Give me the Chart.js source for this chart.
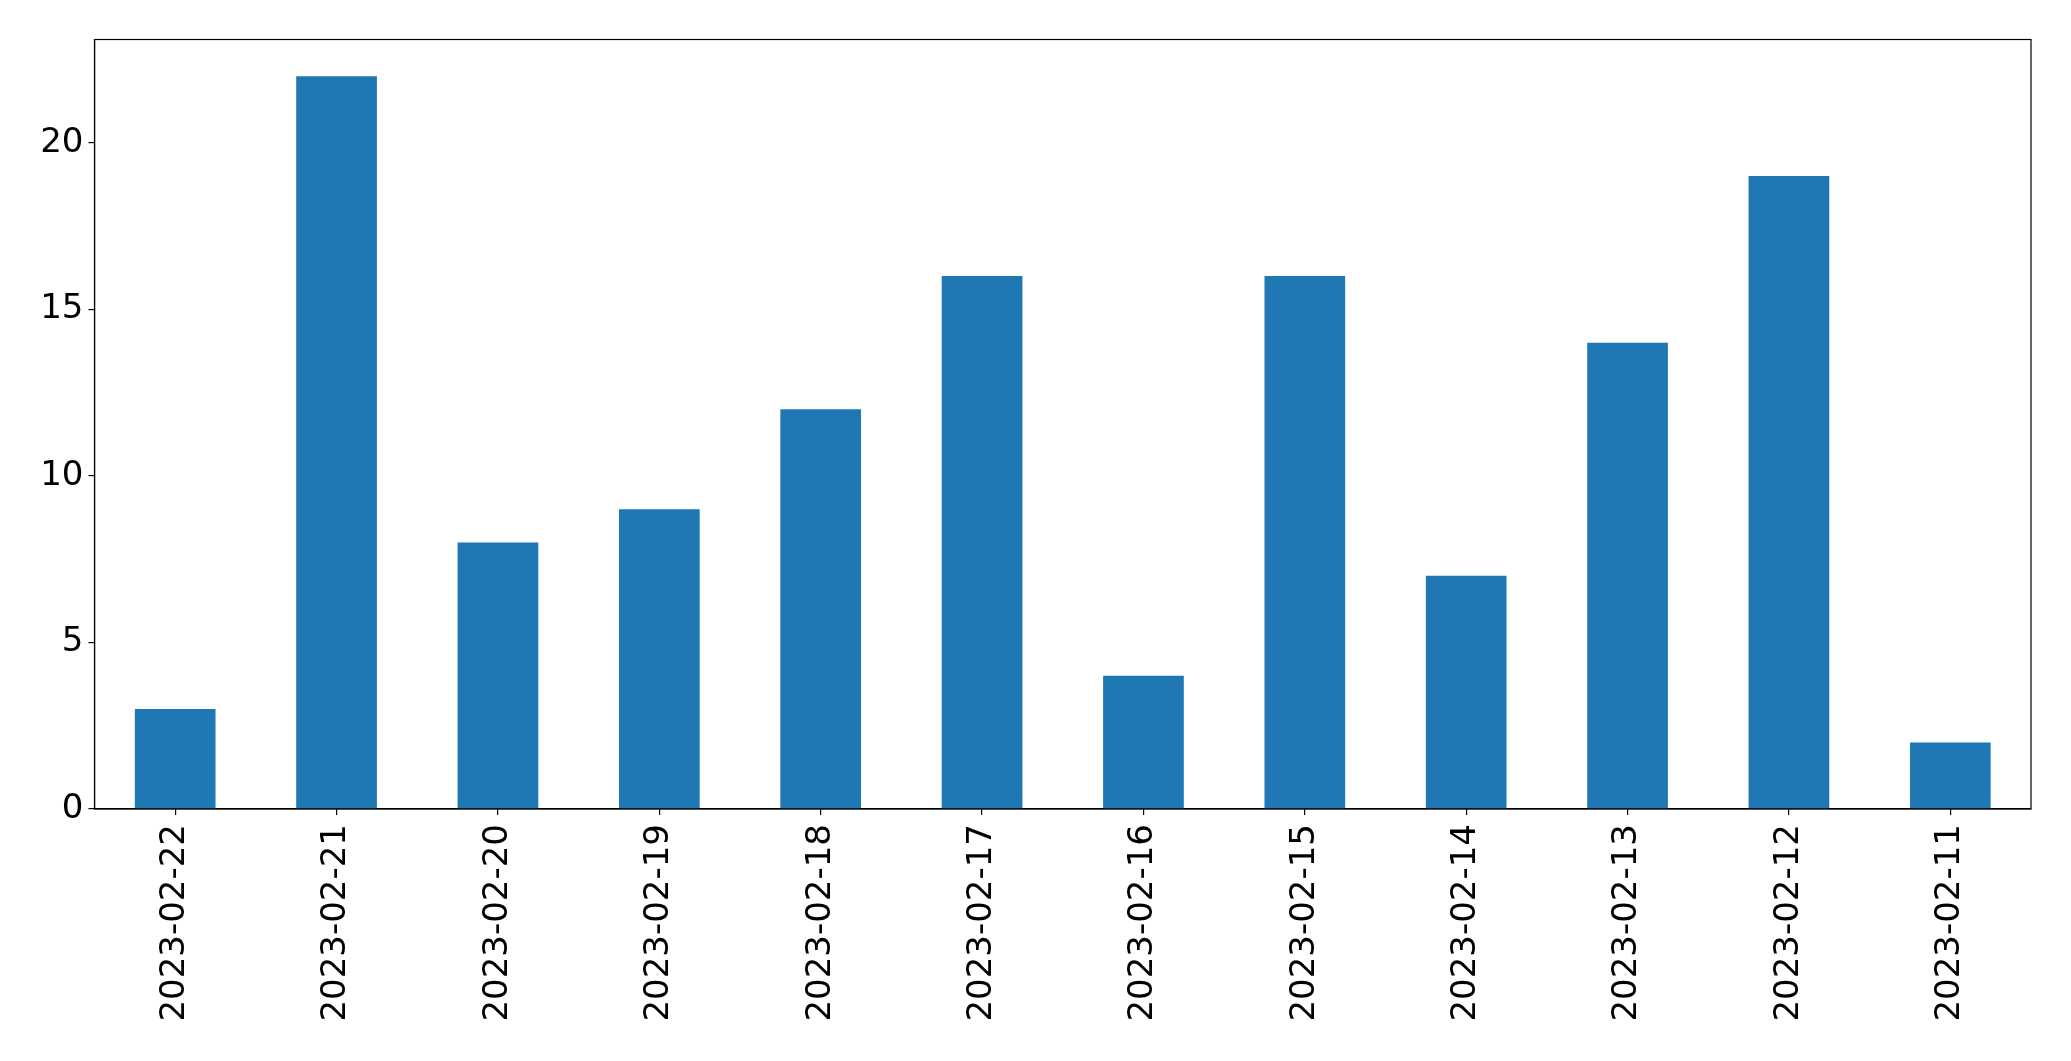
<!DOCTYPE html>
<html>
<head>
<meta charset="utf-8">
<script src="https://cdn.jsdelivr.net/npm/chart.js@4"></script>
<style>
html,body{margin:0;padding:0;background:#fff;}
canvas{display:block;}
</style>
</head>
<body>
<canvas id="c" width="2071" height="1061"></canvas>
<script>
const categories = ["2023-02-22","2023-02-21","2023-02-20","2023-02-19","2023-02-18","2023-02-17","2023-02-16","2023-02-15","2023-02-14","2023-02-13","2023-02-12","2023-02-11"];
const counts = [3,22,8,9,12,16,4,16,7,14,19,2];
const yTicks = [0,5,10,15,20];
const yMax = 23.1;

const frame = {
  id: 'frame',
  afterDraw(chart) {
    const {ctx, chartArea: a} = chart;
    ctx.save();
    ctx.strokeStyle = '#000';
    ctx.lineWidth = 1.2;
    ctx.strokeRect(a.left, a.top, a.right - a.left, a.bottom - a.top);
    ctx.restore();
  }
};

new Chart(document.getElementById('c'), {
  type: 'bar',
  data: {
    labels: categories,
    datasets: [{
      data: counts,
      backgroundColor: '#1f77b4',
      borderWidth: 0,
      categoryPercentage: 1.0,
      barPercentage: 0.5
    }]
  },
  options: {
    responsive: false,
    animation: false,
    devicePixelRatio: 1,
    layout: { padding: { top: 39.5, right: 40, left: 0, bottom: 0 } },
    plugins: { legend: { display: false }, tooltip: { enabled: false } },
    scales: {
      x: {
        grid: { display: true, drawOnChartArea: false, drawTicks: true, tickLength: 6, tickColor: '#000', offset: false, lineWidth: 1.2 },
        border: { display: true, color: '#000', width: 1.2 },
        ticks: { color: '#000', font: { family: 'DejaVu Sans', size: 34 }, minRotation: 90, maxRotation: 90, autoSkip: false, padding: 9 },
        afterFit(s) { s.height = 252; }
      },
      y: {
        min: 0,
        max: yMax,
        grid: { display: true, drawOnChartArea: false, drawTicks: true, tickLength: 6, tickColor: '#000', lineWidth: 1.2 },
        border: { display: true, color: '#000', width: 1.2 },
        ticks: { color: '#000', font: { family: 'DejaVu Sans', size: 34 }, padding: 5 },
        afterBuildTicks(s) { s.ticks = yTicks.map(v => ({ value: v })); },
        afterFit(s) { s.width = 94.5; }
      }
    }
  },
  plugins: [frame]
});
</script>
</body>
</html>
